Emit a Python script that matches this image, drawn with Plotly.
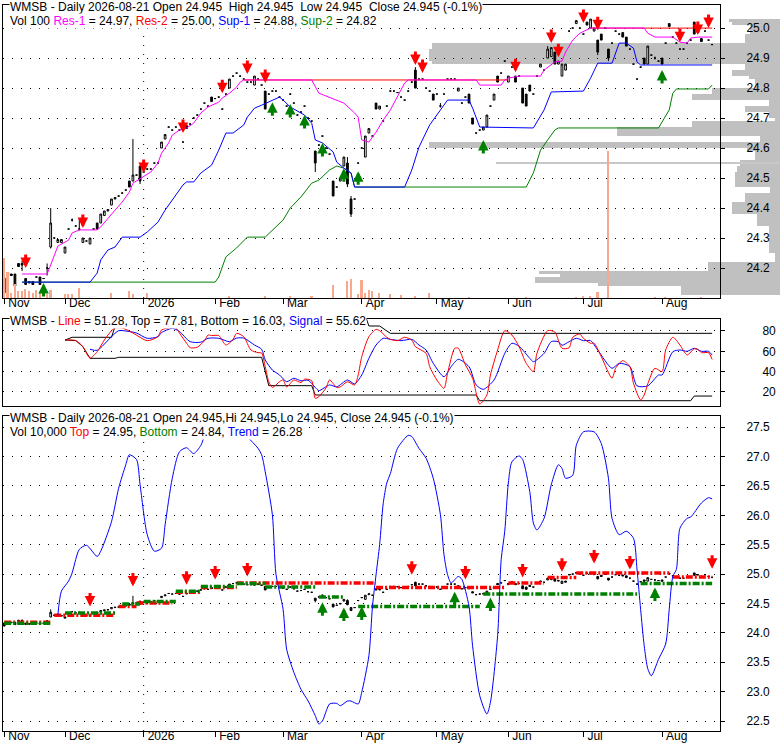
import numpy as np
import pandas as pd
import plotly.graph_objects as go

W, H = 780, 745
FONT = 'Liberation Sans, Arial, sans-serif'
RED, GREEN, BLUE, MAGENTA = '#FF0000', '#008000', '#0000FF', '#FF00FF'
DOTS = '1px,8px'

# trading days on the chart (exchange holidays removed)
holidays = ['2025-11-27', '2025-12-25', '2026-01-01', '2026-01-19', '2026-02-16',
            '2026-04-03', '2026-05-25', '2026-06-19', '2026-07-03']
days = pd.bdate_range('2025-11-05', '2026-08-21')
days = days[~days.isin(pd.to_datetime(holidays))]
day_no = np.arange(len(days))

# daily candles
open_ = [
    24.167, 24.185, 24.18, 24.18, 24.215, 24.215, 24.165, 24.155, 24.155, 24.17,
    24.17, 24.165, 24.20, 24.27, 24.30, 24.285, 24.285, 24.25, 24.33, 24.36,
    24.34, 24.33, 24.285, 24.29, 24.28, 24.33, 24.35, 24.35, 24.375, 24.39,
    24.41, 24.43, 24.44, 24.45, 24.46, 24.49, 24.49, 24.51, 24.54, 24.52,
    24.53, 24.53, 24.55, 24.55, 24.60, 24.63, 24.67, 24.66, 24.67, 24.66,
    24.62, 24.675, 24.68, 24.70, 24.71, 24.73, 24.75, 24.74, 24.77, 24.765,
    24.77, 24.73, 24.78, 24.80, 24.84, 24.85, 24.84, 24.83, 24.82, 24.82,
    24.81, 24.83, 24.81, 24.79, 24.78, 24.79, 24.79, 24.77, 24.76, 24.74,
    24.78, 24.75, 24.71, 24.72, 24.74, 24.70, 24.69, 24.59, 24.61, 24.64,
    24.60, 24.58, 24.49, 24.47, 24.49, 24.54, 24.55, 24.43, 24.43, 24.55,
    24.60, 24.57, 24.65, 24.64, 24.75, 24.73, 24.69, 24.74, 24.79, 24.79,
    24.785, 24.77, 24.76, 24.79, 24.82, 24.86, 24.83, 24.83, 24.80, 24.79,
    24.78, 24.78, 24.74, 24.78, 24.83, 24.83, 24.83, 24.79, 24.75, 24.77,
    24.78, 24.70, 24.65, 24.66, 24.66, 24.67, 24.74, 24.76, 24.84, 24.85,
    24.89, 24.82, 24.87, 24.84, 24.84, 24.80, 24.78, 24.81, 24.78, 24.84,
    24.87, 24.86, 24.90, 24.905, 24.92, 24.88, 24.84, 24.86, 24.99, 25.00,
    25.015, 25.00, 24.98, 25.02, 25.00, 24.99, 24.96, 24.98, 25.00, 24.93,
    24.95, 24.99, 24.98, 24.985, 24.97, 24.93, 24.88, 24.83, 24.87, 24.90,
    24.88, 24.91, 24.90, 24.89, 24.90, 24.95, 25.015, 24.97, 24.95, 24.93,
    24.93, 24.95, 24.96, 25.02, 24.985, 24.965, 24.99, 24.96, 24.945,
]
close = [
    24.117, 24.175, 24.175, 24.14, 24.205, 24.21, 24.145, 24.15, 24.145, 24.17,
    24.145, 24.165, 24.20, 24.35, 24.30, 24.295, 24.295, 24.27, 24.33, 24.36,
    24.34, 24.33, 24.30, 24.29, 24.30, 24.33, 24.33, 24.38, 24.39, 24.395,
    24.43, 24.435, 24.44, 24.45, 24.46, 24.47, 24.51, 24.51, 24.49, 24.52,
    24.53, 24.53, 24.55, 24.55, 24.62, 24.645, 24.67, 24.66, 24.67, 24.66,
    24.62, 24.665, 24.68, 24.70, 24.71, 24.73, 24.75, 24.74, 24.755, 24.765,
    24.77, 24.73, 24.78, 24.83, 24.84, 24.85, 24.84, 24.83, 24.82, 24.82,
    24.84, 24.83, 24.81, 24.73, 24.78, 24.79, 24.79, 24.77, 24.76, 24.74,
    24.78, 24.75, 24.71, 24.72, 24.74, 24.70, 24.69, 24.55, 24.61, 24.64,
    24.60, 24.58, 24.44, 24.47, 24.50, 24.57, 24.48, 24.38, 24.43, 24.55,
    24.60, 24.64, 24.665, 24.64, 24.73, 24.74, 24.69, 24.74, 24.79, 24.79,
    24.785, 24.77, 24.76, 24.79, 24.82, 24.80, 24.83, 24.83, 24.80, 24.79,
    24.76, 24.78, 24.74, 24.78, 24.83, 24.83, 24.83, 24.80, 24.75, 24.77,
    24.75, 24.68, 24.65, 24.66, 24.67, 24.71, 24.74, 24.78, 24.82, 24.85,
    24.89, 24.84, 24.87, 24.82, 24.84, 24.75, 24.74, 24.79, 24.78, 24.84,
    24.88, 24.86, 24.93, 24.935, 24.88, 24.89, 24.88, 24.88, 24.99, 25.00,
    25.025, 25.00, 24.98, 25.01, 25.03, 25.00, 24.92, 24.96, 25.00, 24.90,
    24.95, 24.99, 24.98, 24.97, 24.94, 24.93, 24.88, 24.83, 24.87, 24.88,
    24.94, 24.91, 24.90, 24.89, 24.88, 24.95, 25.005, 24.97, 24.95, 24.93,
    24.93, 24.95, 24.96, 24.98, 24.99, 24.955, 24.99, 24.96, 24.945,
]
# days whose wicks reach past the body
wick_day = [0, 5, 12, 13, 19, 21, 36, 38, 87, 96, 97, 115, 122, 152, 166, 169, 182]
wick_high = [24.17, 24.225, 24.215, 24.40, 24.365, 24.365, 24.63, 24.54, 24.59,
             24.57, 24.44, 24.87, 24.75, 24.94, 24.96, 24.93, 24.905]
wick_low = [24.11, 24.19, 24.175, 24.265, 24.355, 24.325, 24.49, 24.48, 24.52,
            24.47, 24.37, 24.80, 24.735, 24.90, 24.91, 24.89, 24.895]

# daily volume (only days with a visible bar)
vol_day = [0, 1, 2, 3, 4, 5, 6, 7, 8, 9, 10, 12, 13, 17, 18, 19, 21, 30, 35, 36, 40,
           63, 73, 80, 86, 92, 96, 97, 99, 100, 101, 102, 103, 105, 108, 111, 115, 119,
           130, 146, 160, 162, 164, 166, 169, 182, 185, 195]
volume = [40, 26, 5, 14, 7, 7, 9, 7, 5, 8, 5, 4, 8, 4, 4, 4, 10, 5, 7, 4, 5,
          2, 2, 2, 2, 13, 17, 19, 4, 18, 5, 8, 7, 5, 4, 3, 2, 5,
          1, 1, 1, 2, 2, 6, 147, 1, 1, 1]

# volume at price (gray profile on the right)
vp_price = [25.025, 25.015, 25.005, 24.995, 24.985, 24.975, 24.965, 24.955, 24.945, 24.935,
            24.925, 24.915, 24.905, 24.895, 24.885, 24.875, 24.865, 24.855, 24.845, 24.835,
            24.825, 24.815, 24.805, 24.795, 24.785, 24.775, 24.765, 24.755, 24.745, 24.735,
            24.725, 24.715, 24.705, 24.695, 24.685, 24.675, 24.665, 24.655, 24.645, 24.635,
            24.625, 24.615, 24.605, 24.595, 24.585, 24.575, 24.565, 24.555, 24.545, 24.535,
            24.525, 24.515, 24.505, 24.495, 24.485, 24.475, 24.465, 24.455, 24.445, 24.435,
            24.425, 24.415, 24.405, 24.395, 24.385, 24.375, 24.365, 24.355, 24.345, 24.335,
            24.325, 24.315, 24.305, 24.295, 24.285, 24.275, 24.265, 24.255, 24.245, 24.235,
            24.225, 24.215, 24.205, 24.195, 24.185, 24.175, 24.165, 24.155, 24.145, 24.135,
            24.125, 24.115]
vp_volume = [51, 48, 30, 30, 30, 35, 35, 35, 348, 348,
             351, 351, 351, 351, 348, 35, 35, 48, 48, 31,
             25, 25, 25, 68, 68, 88, 88, 11, 11, 35,
             35, 11, 11, 5, 88, 88, 163, 163, 163, 20,
             20, 351, 351, 33, 25, 25, 25, 40, 40, 43,
             43, 45, 45, 45, 45, 45, 10, 10, 35, 35,
             35, 48, 48, 48, 48, 23, 23, 23, 23, 11,
             11, 11, 11, 11, 11, 11, 11, 11, 5, 5,
             5, 72, 72, 72, 241, 220, 245, 245, 182, 99,
             99, 99]
vp_thin_price = [24.549]
vp_thin_volume = [284]

# panel 1 support / resistance lines
res1_day = [5, 12, 13, 14, 15, 18, 19, 21, 26, 27, 29, 31, 33, 35, 36, 38, 41, 43, 44, 46,
            47, 49, 51, 53, 55, 57, 60, 61, 63, 65, 66, 67, 86, 88, 91, 95, 98, 99, 100, 102,
            104, 106, 108, 110, 112, 113, 132, 133, 139, 140, 141, 144, 150, 151, 154, 156,
            157, 159, 161, 164, 179, 180, 182, 187, 189, 191, 192, 194, 198]
res1_val = [24.18, 24.18, 24.21, 24.24, 24.273, 24.293, 24.317, 24.327, 24.327, 24.337,
            24.367, 24.393, 24.42, 24.453, 24.483, 24.497, 24.52, 24.55, 24.583, 24.617,
            24.643, 24.66, 24.667, 24.683, 24.717, 24.737, 24.753, 24.767, 24.783, 24.803,
            24.82, 24.827, 24.827, 24.783, 24.77, 24.75, 24.717, 24.703, 24.627, 24.62,
            24.653, 24.693, 24.727, 24.77, 24.817, 24.827, 24.827, 24.81, 24.81, 24.827,
            24.833, 24.84, 24.84, 24.86, 24.887, 24.89, 24.92, 24.96, 24.983, 25.0,
            25.0, 24.983, 24.97, 24.97, 24.953, 24.95, 24.967, 24.97, 24.97]
res2_start = [67, 164]
res2_end = [141, 198]
res2_level = [24.827, 25.0]
sup1_day = [5, 24, 26, 27, 29, 31, 33, 38, 40, 43, 45, 47, 50, 51, 53, 55, 58, 60, 62, 64,
            67, 68, 70, 72, 75, 77, 78, 80, 84, 86, 87, 89, 92, 93, 95, 97, 98, 112, 114, 116,
            119, 121, 124, 130, 131, 133, 148, 151, 153, 162, 164, 166, 170, 172, 174, 176,
            177, 178, 198]
sup1_val = [24.153, 24.153, 24.183, 24.227, 24.26, 24.27, 24.303, 24.303, 24.32, 24.353,
            24.393, 24.427, 24.477, 24.487, 24.487, 24.517, 24.543, 24.593, 24.65, 24.65,
            24.677, 24.703, 24.733, 24.743, 24.76, 24.77, 24.76, 24.737, 24.71, 24.683,
            24.627, 24.617, 24.587, 24.553, 24.533, 24.517, 24.47, 24.47, 24.527, 24.603,
            24.677, 24.71, 24.76, 24.76, 24.733, 24.67, 24.667, 24.727, 24.787, 24.79,
            24.833, 24.883, 24.883, 24.95, 24.95, 24.933, 24.887, 24.877, 24.877]
sup2_day = [5, 59, 60, 62, 65, 68, 73, 75, 78, 80, 83, 86, 88, 91, 93, 95, 97, 98, 146, 148,
            150, 152, 154, 155, 183, 186, 187, 188, 197, 198]
sup2_val = [24.153, 24.153, 24.17, 24.237, 24.267, 24.303, 24.303, 24.327, 24.36, 24.40,
            24.437, 24.483, 24.493, 24.527, 24.54, 24.533, 24.517, 24.47, 24.47, 24.517,
            24.593, 24.627, 24.66, 24.667, 24.667, 24.727, 24.783, 24.797, 24.797, 24.81]

# panel 1 signal arrows
p1_dn_day = [6, 22, 39, 50, 61, 68, 73, 115, 117, 143, 153, 155, 162, 166, 189, 194, 197]
p1_dn_price = [24.20, 24.333, 24.517, 24.65, 24.783, 24.847, 24.817, 24.877, 24.85,
               24.853, 24.95, 24.903, 25.017, 24.993, 24.953, 24.977, 25.0]
p1_up_day = [11, 75, 80, 84, 89, 95, 99, 134, 184]
p1_up_price = [24.15, 24.753, 24.747, 24.71, 24.617, 24.533, 24.523, 24.627, 24.86]

# panel 2 oscillator
line_day = [17, 20, 22, 24, 26, 28, 30, 31, 33, 36, 40, 43, 44, 46, 48, 49, 51, 52, 54, 56,
            57, 58, 60, 62, 64, 65, 67, 69, 71, 72, 73, 74, 75, 77, 78, 79, 81, 83, 84, 86,
            87, 88, 90, 91, 93, 94, 96, 98, 99, 100, 102, 104, 105, 107, 108, 110, 112, 114,
            115, 118, 119, 121, 123, 124, 126, 127, 129, 131, 133, 135, 136, 138, 140, 142,
            144, 146, 148, 149, 152, 154, 156, 158, 159, 161, 162, 164, 165, 167, 170, 171,
            173, 175, 176, 178, 179, 180, 182, 184, 185, 187, 189, 191, 193, 194, 195, 197, 198]
line_val = [71.1, 70.6, 64.6, 53.4, 59.6, 71.1, 80.3, 83, 83, 78, 70.5, 74.4, 81, 83, 83, 78,
            68, 63.6, 64, 70.5, 76, 75.5, 75.5, 66.2, 71.8, 77.7, 74.4, 61.3, 58.7, 58.3,
            44.9, 30.1, 24.5, 30.1, 31.8, 24.9, 31.8, 29.2, 32.6, 31, 13.8, 15.4, 23.9, 31.8,
            24.5, 25, 30.1, 26.9, 36.7, 54.7, 74.4, 81.6, 80.3, 73.8, 71.8, 70.5, 73.8, 71,
            64.6, 58, 44.9, 31.8, 23.6, 38.4, 63, 63, 46.6, 33.5, 8.2, 17, 36.7, 61.3, 80.3,
            76, 64.6, 48.2, 40, 58, 80.3, 79, 63, 63.5, 73.8, 77, 72.8, 67.9, 67.9, 54.7,
            33.5, 43.3, 50.8, 44.9, 28.6, 12.1, 17, 28, 43.3, 40, 61.3, 73.8, 66.2, 56.4,
            62.5, 62, 58.7, 58.7, 52.1]
sig_day = [24, 26, 30, 32, 35, 37, 40, 43, 44, 47, 49, 52, 55, 57, 60, 63, 65, 67, 70, 72,
           73, 75, 77, 79, 81, 83, 85, 87, 88, 91, 93, 96, 98, 100, 102, 104, 106, 108, 111,
           114, 116, 118, 120, 123, 125, 127, 130, 132, 134, 137, 140, 142, 144, 147, 148,
           151, 153, 155, 156, 158, 160, 162, 164, 166, 170, 172, 175, 177, 180, 183, 184,
           187, 189, 191, 193, 195, 197, 198]
sig_val = [62, 61, 74.4, 80.3, 79.5, 78, 72.8, 74.4, 78.4, 82.6, 79.5, 69.5, 69, 72.8, 72.8,
           69.5, 73, 73, 66.2, 62, 51.5, 41.6, 36.7, 30.1, 33.5, 31, 31.5, 24.5, 21.3, 26.9,
           25, 31.8, 27.9, 36.7, 53.1, 66.2, 72.8, 71.8, 70.5, 71.8, 66.2, 61.3, 48.2, 35,
           44.9, 52.1, 44.9, 26.9, 22.6, 31.8, 58, 67.9, 65, 53.1, 49.8, 58, 69.5, 69.5, 66,
           69.5, 72.8, 70.5, 70.5, 61.3, 43.3, 48.2, 45, 26, 26, 36.7, 36.7, 59.6, 61.3, 60,
           63, 60, 60, 56.4]
top_day = [17, 19, 30, 31, 32, 101, 102, 105, 107, 108, 198]
top_val = [71.1, 73.8, 73.8, 85, 95, 95, 84.9, 84.9, 80, 77.7, 77.7]
bot_day = [17, 20, 22, 24, 31, 32, 72, 74, 86, 87, 132, 133, 192, 193, 198]
bot_val = [71.1, 70.6, 64.6, 53.1, 53.1, 54.1, 54.1, 26.2, 26.2, 17, 17, 11.4, 11.4, 16, 16]

# panel 3 trend and top/bottom levels
trend_day = [15, 16, 18, 19, 20, 21, 23, 26, 27, 30, 32, 34, 35, 37, 38, 40, 42, 44, 45, 47,
             49, 51, 53, 55, 56, 59, 62, 65, 68, 71, 72, 73, 75, 76, 78, 79, 81, 83, 85, 87,
             88, 89, 91, 93, 94, 96, 97, 99, 100, 102, 103, 104, 105, 106, 107, 108, 110, 113,
             114, 116, 118, 120, 122, 123, 124, 125, 127, 128, 130, 131, 133, 135, 136, 138,
             139, 140, 141, 142, 144, 145, 147, 148, 149, 151, 153, 155, 156, 157, 159, 160,
             162, 165, 167, 169, 170, 172, 174, 176, 177, 178, 179, 180, 181, 183, 185, 186,
             187, 188, 189, 191, 192, 195, 197, 198]
trend_val = [24.30, 24.71, 24.88, 25.02, 25.25, 25.42, 25.49, 25.30, 25.39, 25.89, 26.46,
             26.86, 27.03, 26.95, 26.52, 25.67, 25.39, 25.44, 25.84, 26.63, 27.08, 27.15,
             27.05, 27.19, 27.34, 27.6, 27.75, 27.6, 27.34, 27.14, 27.03, 26.74, 26.01, 25.0,
             24.40, 23.72, 23.33, 23.04, 22.84, 22.59, 22.45, 22.5, 22.79, 22.8, 22.76, 22.84,
             22.84, 22.79, 22.99, 23.61, 24.45, 24.99, 25.5, 26.2, 26.55, 26.71, 27.14, 27.36,
             27.34, 27.14, 26.97, 26.63, 26.01, 25.33, 24.99, 24.85, 24.96, 24.91, 24.45,
             23.78, 22.93, 22.62, 22.82, 23.95, 25.25, 25.73, 26.55, 26.91, 27.01, 26.95,
             26.4, 25.87, 25.75, 25.95, 26.52, 26.86, 26.8, 26.63, 26.68, 27.19, 27.42, 27.42,
             27.22, 26.63, 25.95, 25.67, 25.73, 25.61, 25.07, 24.40, 23.78, 23.39, 23.27,
             23.55, 23.81, 24.40, 24.96, 25.08, 25.78, 25.95, 25.97, 26.21, 26.30, 26.28]
tb_top_start = [0, 14, 32, 37, 48, 55, 65, 104, 141, 152, 160, 187]
tb_top_end = [13, 31, 37, 47, 55, 65, 104, 140, 151, 160, 186, 198]
tb_top_level = [24.18, 24.30, 24.45, 24.51, 24.69, 24.77, 24.85, 24.77, 24.85, 24.94, 25.02, 24.95]
tb_bot_start = [0, 17, 33, 39, 48, 55, 65, 73, 88, 99, 134, 178]
tb_bot_end = [13, 31, 38, 48, 55, 65, 73, 87, 95, 133, 177, 198]
tb_bot_level = [24.165, 24.34, 24.49, 24.535, 24.71, 24.79, 24.84, 24.78, 24.61, 24.45, 24.66, 24.84]

p3_dn_day = [24, 36, 51, 59, 68, 114, 129, 145, 156, 165, 175, 198]
p3_dn_price = [24.45, 24.79, 24.82, 24.91, 24.96, 24.99, 24.91, 24.94, 25.04, 25.18, 25.08, 25.09]
p3_up_day = [89, 95, 100, 126, 136, 182]
p3_up_price = [24.52, 24.43, 24.45, 24.70, 24.60, 24.77]

price_ticks = [24.2, 24.3, 24.4, 24.5, 24.6, 24.7, 24.8, 24.9, 25.0]
osc_ticks = [20, 40, 60, 80]
trend_ticks = [22.5, 23.0, 23.5, 24.0, 24.5, 25.0, 25.5, 26.0, 26.5, 27.0, 27.5]


def fx(px):
    return px / W


def fy(px):
    return 1 - px / H


def segments(starts, ends, levels):
    xs, ys = [], []
    for s, e, v in zip(starts, ends, levels):
        xs += [s, e, None]
        ys += [v, v, None]
    return xs, ys


def span(color, text):
    return "<span style='color:%s'>%s</span>" % (color, text)


high = np.maximum(open_, close)
low = np.minimum(open_, close)
for d, hi, lo in zip(wick_day, wick_high, wick_low):
    high[d] = hi
    low[d] = lo

month_start = [i for i in range(len(days)) if i == 0 or days[i].month != days[i - 1].month]
month_text = ['2026' if days[i].month == 1 else days[i].strftime('%b') for i in month_start]
year_start = int(np.argmax(days.year == 2026))

dom_x = [fx(3), fx(720)]
dom1 = [fy(298), fy(5)]
dom2 = [fy(406), fy(319)]
dom3 = [fy(731), fy(416)]
x_range = [-0.34, 200.2]
price_range = [24.10, 25.077]
osc_range = [6.2, 91.8]
trend_range = [22.33, 27.69]

candle_style = dict(
    increasing=dict(line=dict(color='black', width=1), fillcolor='white'),
    decreasing=dict(line=dict(color='black', width=1), fillcolor='black'),
    whiskerwidth=0, hoverinfo='skip', showlegend=False,
)

traces = []
# volume-at-price profile, drawn first so everything else sits on top
traces.append(go.Bar(x=vp_volume, y=vp_price, orientation='h', width=0.01,
                     marker=dict(color='#C0C0C0', line=dict(width=0)),
                     xaxis='x', yaxis='y', hoverinfo='skip'))
traces.append(go.Bar(x=vp_thin_volume, y=vp_thin_price, orientation='h', width=0.003,
                     marker=dict(color='#C8C8C8', line=dict(width=0)),
                     xaxis='x', yaxis='y', hoverinfo='skip'))

# panel 1
r2x, r2y = segments(res2_start, res2_end, res2_level)
for xs, ys, col in [(sup2_day, sup2_val, GREEN), (sup1_day, sup1_val, BLUE),
                    (r2x, r2y, RED), (res1_day, res1_val, MAGENTA)]:
    traces.append(go.Scatter(x=xs, y=ys, mode='lines', line=dict(color=col, width=1),
                             xaxis='x2', yaxis='y2', hoverinfo='skip'))
traces.append(go.Candlestick(x=day_no, open=open_, high=high, low=low, close=close,
                             xaxis='x2', yaxis='y2', **candle_style))
traces.append(go.Bar(x=vol_day, y=volume, width=0.45,
                     marker=dict(color='#F8A88C', line=dict(width=0)),
                     xaxis='x2', yaxis='y5', hoverinfo='skip'))

# panel 2
for xs, ys, col, shape in [(top_day, top_val, 'black', 'linear'),
                           (bot_day, bot_val, 'black', 'linear'),
                           (sig_day, sig_val, BLUE, 'spline'),
                           (line_day, line_val, RED, 'spline')]:
    traces.append(go.Scatter(x=xs, y=ys, mode='lines',
                             line=dict(color=col, width=1, shape=shape, smoothing=0.7),
                             xaxis='x3', yaxis='y3', hoverinfo='skip'))

# panel 3
tx, ty = segments(tb_top_start, tb_top_end, tb_top_level)
bx, by = segments(tb_bot_start, tb_bot_end, tb_bot_level)
for xs, ys, col in [(tx, ty, RED), (bx, by, GREEN)]:
    traces.append(go.Scatter(x=xs, y=ys, mode='lines',
                             line=dict(color=col, width=3.5, dash='7px,2px,2px,2px'),
                             xaxis='x4', yaxis='y4', hoverinfo='skip'))
traces.append(go.Scatter(x=trend_day, y=trend_val, mode='lines',
                         line=dict(color=BLUE, width=1, shape='spline', smoothing=0.7),
                         xaxis='x4', yaxis='y4', hoverinfo='skip'))
traces.append(go.Candlestick(x=day_no, open=open_, high=high, low=low, close=close,
                             xaxis='x4', yaxis='y4', **candle_style))

# arrows
annotations = []
for xa, ya, dn_d, dn_p, up_d, up_p in [('x2', 'y2', p1_dn_day, p1_dn_price, p1_up_day, p1_up_price),
                                       ('x4', 'y4', p3_dn_day, p3_dn_price, p3_up_day, p3_up_price)]:
    for d, p in zip(dn_d, dn_p):
        annotations.append(dict(x=d, y=p, xref=xa, yref=ya, ax=0, ay=-15, text='',
                                showarrow=True, arrowhead=2, arrowsize=0.7, arrowwidth=3,
                                arrowcolor=RED, standoff=0))
    for d, p in zip(up_d, up_p):
        annotations.append(dict(x=d, y=p, xref=xa, yref=ya, ax=0, ay=15, text='',
                                showarrow=True, arrowhead=2, arrowsize=0.7, arrowwidth=3,
                                arrowcolor=GREEN, standoff=0))

# panel titles
nb = '\u00a0'
titles = [
    (7, 'WMSB - Daily 2026-08-21 Open 24.945%s High 24.945%s Low 24.945%s Close 24.945 (-0.1%%)'
     % (nb, nb, nb)),
    (21, 'Vol 100 ' + span(MAGENTA, 'Res-1') + ' = 24.97, ' + span(RED, 'Res-2') + ' = 25.00, '
     + span(BLUE, 'Sup-1') + ' = 24.88, ' + span(GREEN, 'Sup-2') + ' = 24.82'),
    (321, 'WMSB - ' + span(RED, 'Line') + ' = 51.28, Top = 77.81, Bottom = 16.03, '
     + span(BLUE, 'Signal') + ' = 55.62'),
    (418, 'WMSB - Daily 2026-08-21 Open 24.945,Hi 24.945,Lo 24.945, Close 24.945 (-0.1%)'),
    (432, 'Vol 10,000 ' + span(RED, 'Top') + ' = 24.95, ' + span(GREEN, 'Bottom') + ' = 24.84, '
     + span(BLUE, 'Trend') + ' = 26.28'),
]
for ypx, txt in titles:
    annotations.append(dict(x=fx(9), y=fy(ypx), xref='paper', yref='paper', xanchor='left',
                            yanchor='middle', text=txt, showarrow=False, bgcolor='white',
                            borderpad=0, font=dict(size=12, color='black')))

dotted = dict(showgrid=True, gridcolor='black', griddash=DOTS, gridwidth=1)
frame = dict(showline=True, mirror=True, linecolor='black', linewidth=1, zeroline=False)
month_axis = dict(range=x_range, domain=dom_x, tickvals=month_start, ticktext=month_text,
                  ticks='outside', ticklen=5, tickcolor='black',
                  ticklabelposition='outside right', ticklabelstandoff=-6, ticklabelshift=3,
                  showgrid=False, rangeslider=dict(visible=False), **frame)

shapes = []
for xr, yr in [('x2', 'y2 domain'), ('x4', 'y4 domain')]:
    shapes.append(dict(type='line', xref=xr, yref=yr, x0=year_start, x1=year_start, y0=0, y1=1,
                       line=dict(color='black', width=1, dash=DOTS)))

layout = go.Layout(
    width=W, height=H, margin=dict(l=0, r=0, t=0, b=0),
    paper_bgcolor='white', plot_bgcolor='rgba(0,0,0,0)',
    font=dict(family=FONT, size=12, color='black'),
    showlegend=False, bargap=0, hovermode=False,
    xaxis=dict(domain=[0, 1], range=[780, 0], visible=False, anchor='y'),
    yaxis=dict(domain=dom1, range=price_range, visible=False, anchor='x'),
    xaxis2=dict(anchor='y2', **month_axis),
    yaxis2=dict(domain=dom1, range=price_range, side='right', anchor='x2',
                tickvals=price_ticks, tickformat='.1f', ticks='outside', ticklen=4,
                tickcolor='black', ticklabelstandoff=19, **dotted, **frame),
    yaxis5=dict(overlaying='y2', range=[0, 293], visible=False),
    xaxis3=dict(anchor='y3', matches='x2', domain=dom_x, range=x_range, ticks='',
                showticklabels=False, showgrid=False, rangeslider=dict(visible=False), **frame),
    yaxis3=dict(domain=dom2, range=osc_range, side='right', anchor='x3',
                tickvals=osc_ticks, ticks='outside', ticklen=4, tickcolor='black',
                ticklabelstandoff=35, **dotted, **frame),
    xaxis4=dict(anchor='y4', matches='x2', **month_axis),
    yaxis4=dict(domain=dom3, range=trend_range, side='right', anchor='x4',
                tickvals=trend_ticks, tickformat='.1f', ticks='outside', ticklen=4,
                tickcolor='black', ticklabelstandoff=19, **dotted, **frame),
    annotations=annotations, shapes=shapes,
)

fig = go.Figure(data=traces, layout=layout)
# the page's default body margin would push the 780x745 figure off the window
fig.write_html("out.html", config={'displayModeBar': False},
               post_script="document.body.style.margin='0';document.body.style.overflow='hidden';")
